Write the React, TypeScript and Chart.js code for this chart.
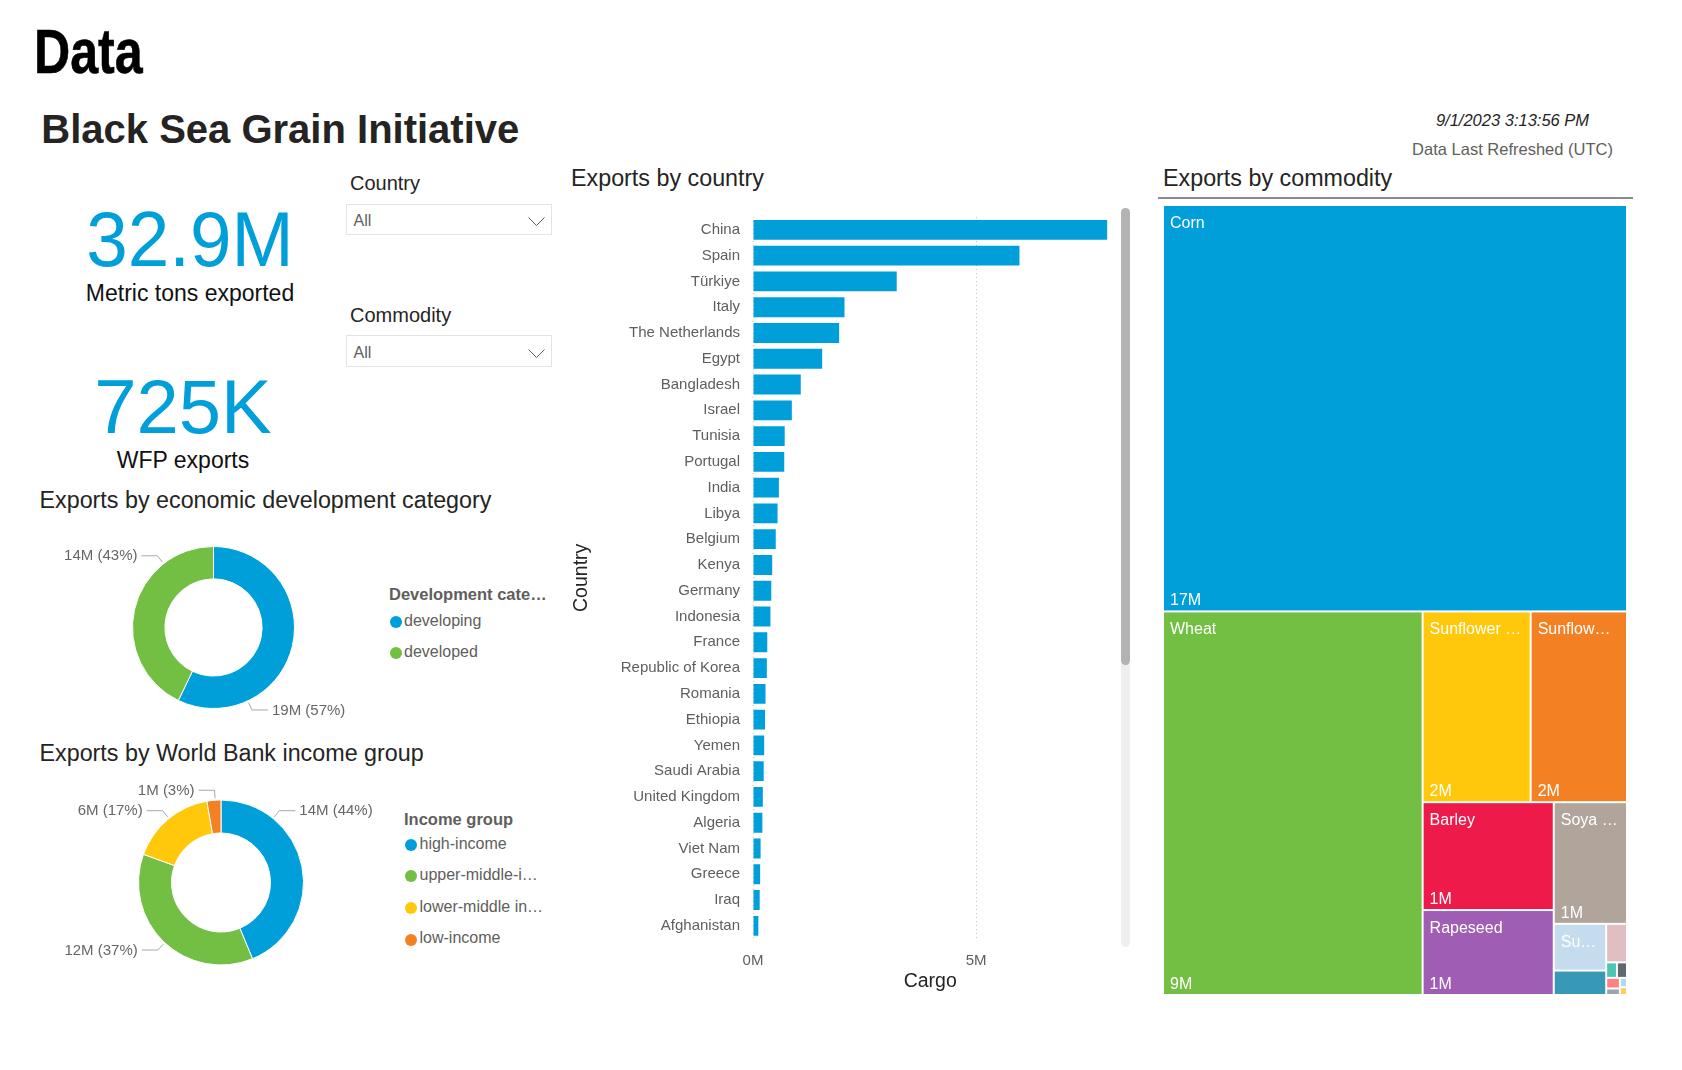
import React, { useEffect, useRef } from "react";
import { Chart, registerables } from "chart.js";

Chart.register(...registerables);

const FONT = '"Liberation Sans", Arial, Helvetica, sans-serif';
const INK = "#252423";
const GREY = "#605E5C";
const BLUE = "#009FDA";

// ---------------- data ----------------
const pageHeading = "Data";
const reportTitle = "Black Sea Grain Initiative";
const refreshedAt = "9/1/2023 3:13:56 PM";
const refreshedLabel = "Data Last Refreshed (UTC)";
const metricTonsExported = 32900000;
const wfpExports = 725000;

const countries = [
  "China", "Spain", "Türkiye", "Italy", "The Netherlands", "Egypt", "Bangladesh",
  "Israel", "Tunisia", "Portugal", "India", "Libya", "Belgium", "Kenya", "Germany",
  "Indonesia", "France", "Republic of Korea", "Romania", "Ethiopia", "Yemen",
  "Saudi Arabia", "United Kingdom", "Algeria", "Viet Nam", "Greece", "Iraq", "Afghanistan",
];
const cargoByCountry = [
  7940000, 5970000, 3220000, 2050000, 1930000, 1550000, 1070000,
  870000, 710000, 700000, 580000, 550000, 510000, 430000, 410000,
  390000, 320000, 310000, 280000, 270000, 250000,
  240000, 220000, 210000, 170000, 160000, 150000, 120000,
];
const cargoTicks = [0, 5000000];

const devCategories = ["developing", "developed"];
const devValues = [18800000, 14100000];
const devColors = ["#009FDA", "#72BF44"];

const incomeGroups = ["high-income", "upper-middle-income", "lower-middle income", "low-income"];
const incomeValues = [14400000, 12100000, 5500000, 900000];
const incomeColors = ["#009FDA", "#72BF44", "#FFC80B", "#F48024"];

const commodities = [
  "Corn", "Wheat", "Sunflower meal", "Sunflower oil", "Barley", "Rapeseed", "Soya beans",
  "Sunflower seed", "Wheat bran pellets", "Peas", "Mixed", "Vegetable oil",
  "Sunflower pellets", "Soya oil", "Sugar beet pellets", "Other",
];
const commodityValues = [
  16930000, 8940000, 1850000, 1650000, 1270000, 1000000, 800000,
  220000, 115000, 72000, 15000, 14000,
  13000, 8000, 6000, 5000,
];
const commodityColors = [
  "#009FDA", "#72BF44", "#FFC80B", "#F48024", "#EE1A4A", "#A05DB4", "#B0A49B",
  "#C5DCEF", "#3799B6", "#E0BEC4", "#49C5B1", "#5E6A6E",
  "#FF8181", "#9AA5AA", "#A9DCF0", "#FFCD5B",
];

// label placement (style, degrees clockwise from 3 o'clock)
const devLabelAngles = [65, 232];
const incomeLabelAngles = [-50.9, 133.1, 230.9, 266];

// ---------------- helpers ----------------
const fmtM = (v: number) => `${Math.round(v / 1e6)}M`;
const fmtKpi = (v: number) => (v >= 1e6 ? `${(v / 1e6).toFixed(1)}M` : `${Math.round(v / 1e3)}K`);

type TP = {
  x: number; b: number; size: number; text: string; color?: string; weight?: any;
  italic?: boolean; align?: "left" | "center"; sx?: number; maxW?: number; stroke?: string;
};
function Txt(p: TP) {
  const L = 1.4;
  const s: any = {
    position: "absolute",
    top: p.b - ((L - 1.117) / 2 + 0.905) * p.size,
    left: p.x,
    fontSize: p.size,
    lineHeight: `${L * p.size}px`,
    whiteSpace: "nowrap",
    color: p.color ?? INK,
    fontWeight: p.weight ?? "normal",
    fontStyle: p.italic ? "italic" : "normal",
    fontFamily: FONT,
  };
  const sx = p.sx ?? 1;
  if (p.align === "center") {
    s.transform = `translateX(-50%) scaleX(${sx})`;
    s.transformOrigin = "50% 50%";
  } else if (sx !== 1) {
    s.transform = `scaleX(${sx})`;
    s.transformOrigin = "0 50%";
  }
  if (p.maxW) {
    s.width = p.maxW;
    s.overflow = "hidden";
    s.textOverflow = "ellipsis";
  }
  if (p.stroke) s.WebkitTextStroke = p.stroke;
  return <div style={s}>{p.text}</div>;
}

// ---------------- bar chart ----------------
function CountryBars() {
  const ref = useRef<HTMLCanvasElement>(null);
  useEffect(() => {
    const chart = new Chart(ref.current as HTMLCanvasElement, {
      type: "bar",
      data: {
        labels: countries,
        datasets: [
          { label: "Cargo", data: cargoByCountry, backgroundColor: BLUE, barPercentage: 0.77, categoryPercentage: 1 },
        ],
      },
      options: {
        indexAxis: "y",
        responsive: false,
        animation: false,
        events: [],
        layout: { padding: { top: 19.8, right: 12.6, bottom: 1.3, left: 0 } },
        plugins: { legend: { display: false }, tooltip: { enabled: false } },
        scales: {
          x: {
            type: "linear",
            min: 0,
            max: Math.max(...cargoByCountry),
            afterBuildTicks: (s: any) => {
              s.ticks = cargoTicks.map((v) => ({ value: v }));
            },
            afterFit: (s: any) => {
              s.height = 60;
            },
            grid: { color: "#c4c4c4", lineWidth: 1, drawTicks: false },
            border: { display: false, dash: [1, 3] },
            ticks: {
              padding: 13,
              color: GREY,
              font: { family: FONT, size: 15 },
              callback: (v: any) => `${Number(v) / 1e6}M`,
            },
            title: {
              display: true, text: "Cargo", color: INK,
              font: { family: FONT, size: 19.5 }, padding: { top: 0, bottom: 5.3 },
            },
          },
          y: {
            type: "category",
            afterFit: (s: any) => {
              s.width = 193;
            },
            grid: { display: false, drawTicks: false },
            border: { display: false },
            ticks: { padding: 13, color: GREY, font: { family: FONT, size: 15 }, autoSkip: false },
            title: {
              display: true, text: "Country", color: INK,
              font: { family: FONT, size: 19.5 }, padding: { top: 10.3, bottom: 0 },
            },
          },
        },
      } as any,
    });
    return () => chart.destroy();
  }, []);
  return <canvas ref={ref} width={560} height={805} style={{ position: "absolute", left: 560, top: 195 }} />;
}

// ---------------- donuts ----------------
function donutLabels(angles: number[]) {
  return {
    id: "donutLabels",
    afterDatasetsDraw(chart: any) {
      const ctx = chart.ctx;
      const meta = chart.getDatasetMeta(0);
      const vals = chart.data.datasets[0].data as number[];
      const total = vals.reduce((s, v) => s + v, 0);
      ctx.save();
      ctx.font = `15px ${FONT}`;
      ctx.textBaseline = "middle";
      meta.data.forEach((arc: any, i: number) => {
        const { x, y, outerRadius } = arc.getProps(["x", "y", "outerRadius"], true);
        const t = (angles[i] * Math.PI) / 180;
        const c = Math.cos(t);
        const s = Math.sin(t);
        const dir = c >= 0 ? 1 : -1;
        const p0x = x + (outerRadius + 2) * c;
        const p0y = y + (outerRadius + 2) * s;
        const p1x = x + (outerRadius + 10) * c;
        const p1y = y + (outerRadius + 10) * s;
        const p2x = p1x + dir * 16;
        ctx.strokeStyle = "#a8a8a8";
        ctx.lineWidth = 1;
        ctx.beginPath();
        ctx.moveTo(p0x, p0y);
        ctx.lineTo(p1x, p1y);
        ctx.lineTo(p2x, p1y);
        ctx.stroke();
        ctx.fillStyle = "#666666";
        ctx.textAlign = dir > 0 ? "left" : "right";
        ctx.fillText(`${fmtM(vals[i])} (${Math.round((vals[i] / total) * 100)}%)`, p2x + dir * 4, p1y + 0.5);
      });
      ctx.restore();
    },
  };
}

type DonutProps = {
  labels: string[]; values: number[]; colors: string[]; angles: number[];
  left: number; top: number; width: number; height: number;
  padding: { left: number; right: number; top: number; bottom: number };
};
function Donut(p: DonutProps) {
  const ref = useRef<HTMLCanvasElement>(null);
  useEffect(() => {
    const chart = new Chart(ref.current as HTMLCanvasElement, {
      type: "doughnut",
      data: {
        labels: p.labels,
        datasets: [
          { data: p.values, backgroundColor: p.colors, borderColor: "#ffffff", borderWidth: 1, hoverOffset: 0 },
        ],
      },
      options: {
        responsive: false,
        animation: false,
        events: [],
        cutout: "60%",
        layout: { padding: p.padding },
        plugins: { legend: { display: false }, tooltip: { enabled: false } },
      } as any,
      plugins: [donutLabels(p.angles) as any],
    });
    return () => chart.destroy();
  }, []);
  return (
    <canvas ref={ref} width={p.width} height={p.height} style={{ position: "absolute", left: p.left, top: p.top }} />
  );
}

// ---------------- treemap ----------------
const PHI = 0.5 * (1 + Math.sqrt(5));
function worst(areas: number[], s: number, u: number) {
  let rmin = Infinity;
  let rmax = 0;
  areas.forEach((r) => {
    if (r < rmin) rmin = r;
    if (r > rmax) rmax = r;
  });
  const s2 = s * s;
  const u2 = u * u;
  return Math.max((u2 * rmax * PHI) / s2, s2 / (u2 * rmin * PHI));
}
function squarify(values: number[], W: number, H: number) {
  const total = values.reduce((a, b) => a + b, 0);
  const k = (W * H) / total;
  const items = values.map((v, i) => ({ i, area: v * k })).sort((a, b) => b.area - a.area);
  const rects: { x: number; y: number; w: number; h: number }[] = new Array(values.length);
  let rx = 0, ry = 0, rw = W, rh = H;
  let idx = 0;
  while (idx < items.length) {
    const u = Math.min(rw, rh);
    let row = [items[idx]];
    let s = items[idx].area;
    let best = worst([s], s, u);
    let j = idx + 1;
    while (j < items.length) {
      const s2 = s + items[j].area;
      const cand = [...row, items[j]];
      const sc = worst(cand.map((c) => c.area), s2, u);
      if (sc <= best) {
        row = cand; s = s2; best = sc; j++;
      } else break;
    }
    const last = j >= items.length;
    if (u === rw) {
      const t = last ? rh : s / rw;
      let cx = rx;
      row.forEach((it, n) => {
        const len = n === row.length - 1 ? rx + rw - cx : it.area / t;
        rects[it.i] = { x: cx, y: ry, w: len, h: t };
        cx += len;
      });
      ry += t; rh -= t;
    } else {
      const t = last ? rw : s / rh;
      let cy = ry;
      row.forEach((it, n) => {
        const len = n === row.length - 1 ? ry + rh - cy : it.area / t;
        rects[it.i] = { x: rx, y: cy, w: t, h: len };
        cy += len;
      });
      rx += t; rw -= t;
    }
    idx = j;
  }
  return rects;
}
function fitText(ctx: CanvasRenderingContext2D, text: string, avail: number) {
  if (ctx.measureText(text).width <= avail) return text;
  for (let n = text.length - 1; n >= 1; n--) {
    const t = text.slice(0, n) + "…";
    if (ctx.measureText(t).width <= avail) return t;
  }
  return "";
}
const treemapPlugin = {
  id: "treemapCells",
  afterDatasetsDraw(chart: any) {
    const { ctx, chartArea: a } = chart;
    const xs = chart.scales.x;
    const ys = chart.scales.y;
    const W = a.right - a.left;
    const H = a.bottom - a.top;
    const rects = squarify(commodityValues, W, H);
    ctx.save();
    ctx.font = `16px ${FONT}`;
    ctx.textBaseline = "alphabetic";
    ctx.textAlign = "left";
    rects.forEach((r, i) => {
      const x0 = xs.getPixelForValue(r.x / W);
      const x1 = xs.getPixelForValue((r.x + r.w) / W);
      const y0 = ys.getPixelForValue(r.y / H);
      const y1 = ys.getPixelForValue((r.y + r.h) / H);
      const cx = x0 + 1, cy = y0 + 1, cw = x1 - x0 - 2, ch = y1 - y0 - 2;
      if (cw <= 0 || ch <= 0) return;
      ctx.fillStyle = commodityColors[i % commodityColors.length];
      ctx.fillRect(cx, cy, cw, ch);
      const avail = cw - 13;
      if (ch >= 24 && avail > 0) {
        ctx.fillStyle = "#ffffff";
        const name = fitText(ctx, commodities[i], avail);
        if (name) ctx.fillText(name, cx + 6, cy + 22);
        if (ch >= 55) ctx.fillText(fmtM(commodityValues[i]), cx + 6, cy + ch - 5);
      }
    });
    ctx.restore();
  },
};
function CommodityTreemap() {
  const ref = useRef<HTMLCanvasElement>(null);
  useEffect(() => {
    const chart = new Chart(ref.current as HTMLCanvasElement, {
      type: "scatter",
      data: { datasets: [{ data: [] }] },
      options: {
        responsive: false,
        animation: false,
        events: [],
        layout: { padding: 0 },
        plugins: { legend: { display: false }, tooltip: { enabled: false } },
        scales: {
          x: { type: "linear", min: 0, max: 1, display: false },
          y: { type: "linear", min: 0, max: 1, reverse: true, display: false },
        },
      } as any,
      plugins: [treemapPlugin as any],
    });
    return () => chart.destroy();
  }, []);
  return <canvas ref={ref} width={464} height={790} style={{ position: "absolute", left: 1163, top: 205 }} />;
}

// ---------------- slicer ----------------
function Slicer({ label, top, labelBase }: { label: string; top: number; labelBase: number }) {
  return (
    <>
      <Txt x={350} b={labelBase} size={20} text={label} color={INK} />
      <div
        style={{
          position: "absolute", left: 345.5, top, width: 206, height: 31.5,
          border: "1px solid #e3e3e3", boxSizing: "border-box", background: "#fff",
        }}
      />
      <Txt x={353.5} b={top + 23.5} size={16} text="All" color={GREY} />
      <svg width={17} height={10} style={{ position: "absolute", left: 527.5, top: top + 13.5 }}>
        <polyline points="0.5,0.5 8.5,8.5 16.5,0.5" fill="none" stroke="#605E5C" strokeWidth={1} />
      </svg>
    </>
  );
}

function Legend({ title, items, colors, x, dotX, b0, step, titleX, titleBase, maxW, titleMaxW }: any) {
  return (
    <>
      <Txt x={titleX} b={titleBase} size={16.5} text={title} color={GREY} weight="bold" maxW={titleMaxW} />
      {items.map((it: string, i: number) => (
        <React.Fragment key={it}>
          <div
            style={{
              position: "absolute", left: dotX - 6, top: b0 + i * step - 4.5 - 6, width: 12, height: 12,
              borderRadius: 6, background: colors[i],
            }}
          />
          <Txt x={x} b={b0 + i * step} size={16} text={it} color={GREY} maxW={maxW} />
        </React.Fragment>
      ))}
    </>
  );
}

export default function App() {
  return (
    <div
      style={{
        position: "absolute", left: 0, top: 0, width: 1682, height: 1070, background: "#ffffff",
        overflow: "hidden", fontFamily: FONT,
      }}
    >
      <Txt x={34} b={72.7} size={63} text={pageHeading} color="#000" weight="bold" sx={0.796} stroke="0.6px #000" />
      <Txt x={41.3} b={142.7} size={40} text={reportTitle} color={INK} weight="bold" />
      <Txt x={1512.5} b={126} size={16.5} text={refreshedAt} color={INK} italic align="center" />
      <Txt x={1512.5} b={155.3} size={16.5} text={refreshedLabel} color={GREY} align="center" />

      <Txt x={190} b={266.7} size={77} text={fmtKpi(metricTonsExported)} color={BLUE} align="center" sx={0.97} />
      <Txt x={190} b={301} size={23} text="Metric tons exported" color="#111" align="center" />
      <Txt x={183} b={433.3} size={76} text={fmtKpi(wfpExports)} color={BLUE} align="center" sx={1.0} />
      <Txt x={183} b={468.3} size={23} text="WFP exports" color="#111" align="center" />

      <Slicer label="Country" top={203.5} labelBase={190} />
      <Slicer label="Commodity" top={335} labelBase={321.5} />

      <Txt x={39.5} b={508.3} size={23.3} text="Exports by economic development category" color={INK} />
      <Donut
        labels={devCategories} values={devValues} colors={devColors} angles={devLabelAngles}
        left={40} top={530} width={340} height={200}
        padding={{ left: 92, right: 85, top: 16, bottom: 21 }}
      />
      <Legend
        title="Development category" items={devCategories} colors={devColors}
        x={404} dotX={396} b0={626.7} step={30.6} titleX={389} titleBase={600.7} maxW={140} titleMaxW={162}
      />

      <Txt x={39.5} b={761.7} size={23.3} text="Exports by World Bank income group" color={INK} />
      <Donut
        labels={incomeGroups} values={incomeValues} colors={incomeColors} angles={incomeLabelAngles}
        left={40} top={770} width={360} height={220}
        padding={{ left: 98, right: 96, top: 29.5, bottom: 24.5 }}
      />
      <Legend
        title="Income group" items={incomeGroups} colors={incomeColors}
        x={419.5} dotX={411} b0={849.3} step={31.6} titleX={404} titleBase={825} maxW={125} titleMaxW={160}
      />

      <Txt x={571} b={186} size={23.3} text="Exports by country" color={INK} />
      <CountryBars />
      <div style={{ position: "absolute", left: 1121, top: 208, width: 9, height: 739, background: "#efefef", borderRadius: 4.5 }} />
      <div style={{ position: "absolute", left: 1121, top: 208, width: 9, height: 457, background: "#b3b3b3", borderRadius: 4.5 }} />

      <Txt x={1163} b={186} size={23.3} text="Exports by commodity" color={INK} />
      <div style={{ position: "absolute", left: 1157.5, top: 196.7, width: 475, height: 2, background: "#8c8c8c" }} />
      <CommodityTreemap />
    </div>
  );
}
